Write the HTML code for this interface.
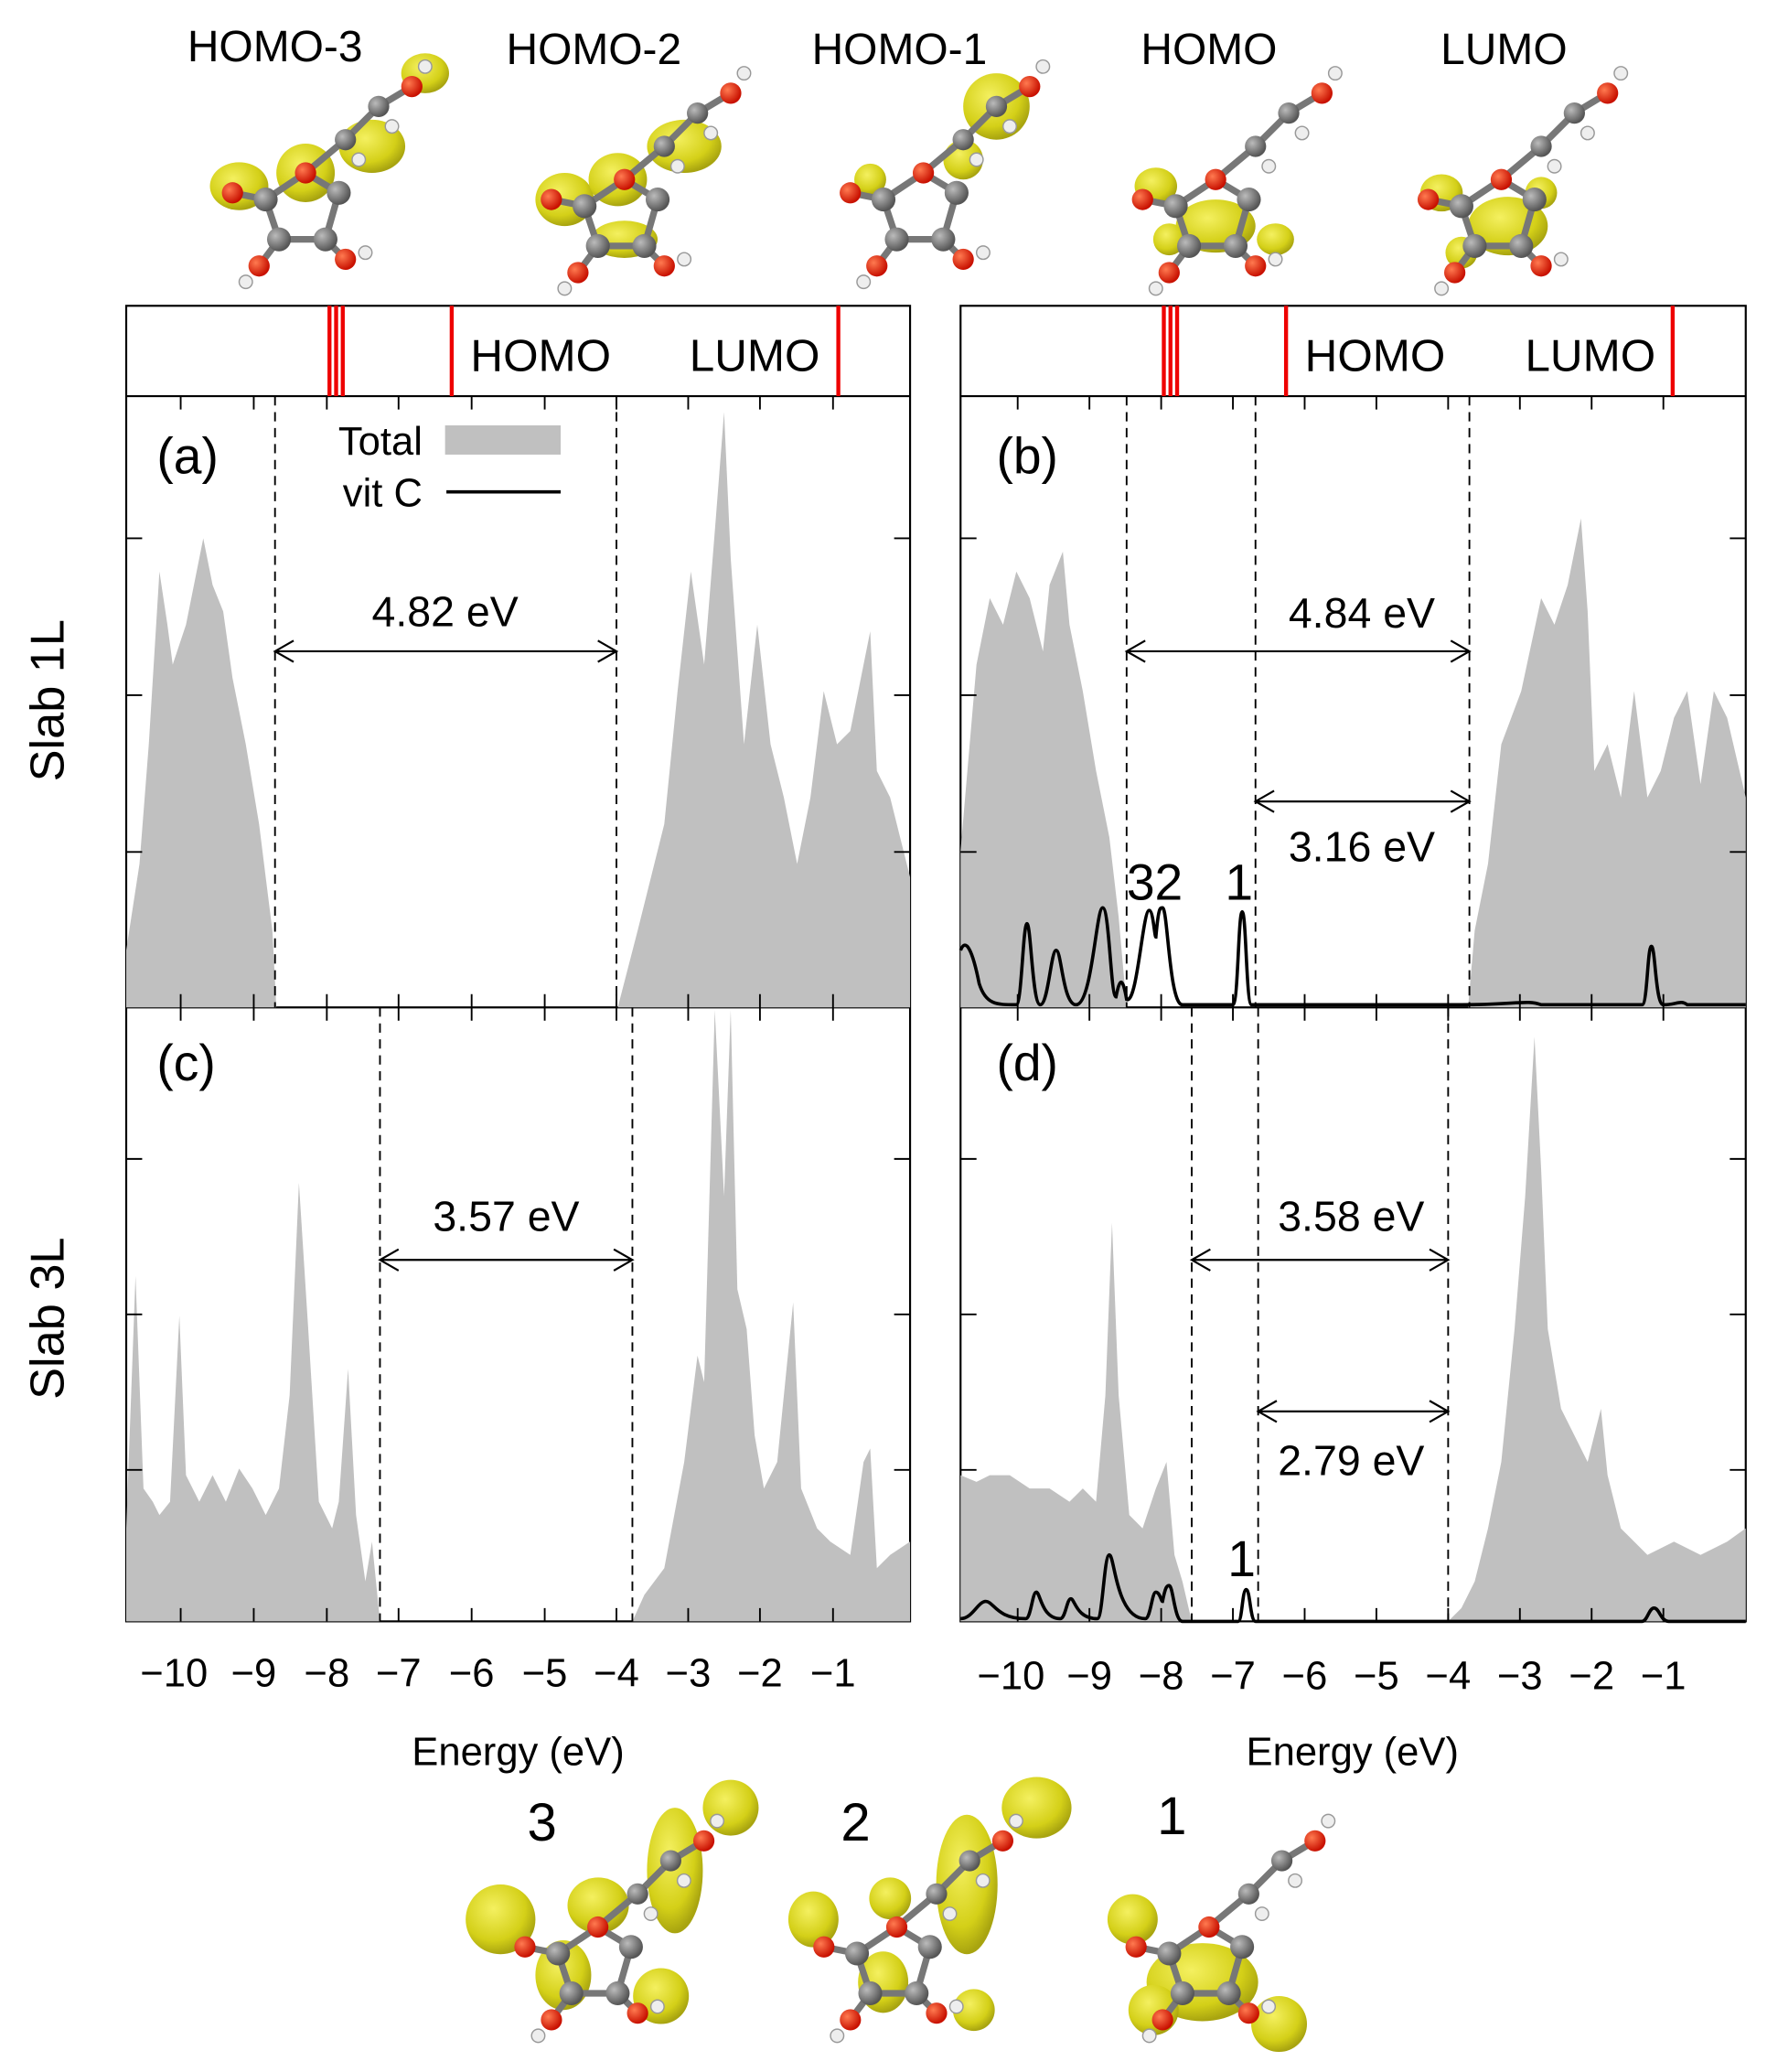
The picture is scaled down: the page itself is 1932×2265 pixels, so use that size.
<!DOCTYPE html>
<html><head><meta charset="utf-8"><style>html,body{margin:0;padding:0;background:#fff}svg{display:block}text{font-family:"Liberation Sans",sans-serif;fill:#000}</style></head><body>
<svg width="1932" height="2265" viewBox="0 0 1330 1559" xmlns="http://www.w3.org/2000/svg">
<defs>
<radialGradient id="yb" cx="40%" cy="35%" r="65%"><stop offset="0" stop-color="#f4f060"/><stop offset="0.7" stop-color="#d4d018"/><stop offset="1" stop-color="#a8a410"/></radialGradient>
<radialGradient id="gb" cx="35%" cy="35%" r="65%"><stop offset="0" stop-color="#bbb"/><stop offset="1" stop-color="#555"/></radialGradient>
<radialGradient id="rb" cx="35%" cy="35%" r="65%"><stop offset="0" stop-color="#ff7a50"/><stop offset="1" stop-color="#c81000"/></radialGradient>
<radialGradient id="bb" cx="35%" cy="35%" r="65%"><stop offset="0" stop-color="#b08050"/><stop offset="1" stop-color="#5a3a1a"/></radialGradient>
<g id="mol">
<path d="M-25,10 L5,-10 L30,5 L20,40 L-15,40 Z M5,-10 L35,-35 L60,-60 L85,-75 M-15,40 L-30,60 M20,40 L35,55 M-25,10 L-50,5" stroke="#777" stroke-width="5" fill="none"/>
<circle cx="-25" cy="10" r="9" fill="url(#gb)"/><circle cx="30" cy="5" r="9" fill="url(#gb)"/><circle cx="20" cy="40" r="9" fill="url(#gb)"/><circle cx="-15" cy="40" r="9" fill="url(#gb)"/><circle cx="35" cy="-35" r="8" fill="url(#gb)"/><circle cx="60" cy="-60" r="8" fill="url(#gb)"/>
<circle cx="5" cy="-10" r="8" fill="url(#rb)"/><circle cx="-50" cy="5" r="8" fill="url(#rb)"/><circle cx="-30" cy="60" r="8" fill="url(#rb)"/><circle cx="35" cy="55" r="8" fill="url(#rb)"/><circle cx="85" cy="-75" r="8" fill="url(#rb)"/>
<circle cx="95" cy="-90" r="5" fill="#eee" stroke="#999"/><circle cx="-40" cy="72" r="5" fill="#eee" stroke="#999"/><circle cx="50" cy="50" r="5" fill="#eee" stroke="#999"/><circle cx="45" cy="-20" r="5" fill="#eee" stroke="#999"/><circle cx="70" cy="-45" r="5" fill="#eee" stroke="#999"/>
</g>
</defs>
<rect width="1330" height="1559" fill="#fff"/>
<!-- top molecules -->
<g font-size="33">
<text x="207" y="46" text-anchor="middle">HOMO-3</text>
<text x="447" y="48" text-anchor="middle">HOMO-2</text>
<text x="677" y="48" text-anchor="middle">HOMO-1</text>
<text x="910" y="48" text-anchor="middle">HOMO</text>
<text x="1132" y="48" text-anchor="middle">LUMO</text>
</g>
<g transform="translate(225,140)"><ellipse cx="-45" cy="0" rx="22" ry="18" fill="url(#yb)"/><ellipse cx="5" cy="-10" rx="22" ry="22" fill="url(#yb)"/><ellipse cx="55" cy="-30" rx="25" ry="20" fill="url(#yb)"/><ellipse cx="95" cy="-85" rx="18" ry="15" fill="url(#yb)"/><use href="#mol"/></g>
<g transform="translate(465,145)"><ellipse cx="-40" cy="5" rx="22" ry="20" fill="url(#yb)"/><ellipse cx="0" cy="-10" rx="22" ry="20" fill="url(#yb)"/><ellipse cx="50" cy="-35" rx="28" ry="20" fill="url(#yb)"/><ellipse cx="5" cy="35" rx="25" ry="14" fill="url(#yb)"/><use href="#mol"/></g>
<g transform="translate(690,140)"><ellipse cx="-35" cy="-5" rx="12" ry="12" fill="url(#yb)"/><ellipse cx="60" cy="-60" rx="25" ry="25" fill="url(#yb)"/><ellipse cx="35" cy="-20" rx="15" ry="15" fill="url(#yb)"/><use href="#mol"/></g>
<g transform="translate(910,145)"><ellipse cx="-40" cy="-5" rx="16" ry="14" fill="url(#yb)"/><ellipse cx="5" cy="25" rx="30" ry="20" fill="url(#yb)"/><ellipse cx="-30" cy="35" rx="12" ry="12" fill="url(#yb)"/><ellipse cx="50" cy="35" rx="14" ry="12" fill="url(#yb)"/><use href="#mol"/></g>
<g transform="translate(1125,145)"><ellipse cx="-40" cy="0" rx="16" ry="14" fill="url(#yb)"/><ellipse cx="10" cy="25" rx="30" ry="22" fill="url(#yb)"/><ellipse cx="-25" cy="45" rx="12" ry="12" fill="url(#yb)"/><ellipse cx="35" cy="0" rx="12" ry="12" fill="url(#yb)"/><use href="#mol"/></g>

<!-- top strips -->
<g fill="none" stroke="#000" stroke-width="1.5">
<rect x="95" y="230" width="590" height="990"/>
<rect x="723" y="230" width="591" height="990"/>
<line x1="95" y1="298" x2="685" y2="298"/><line x1="723" y1="298" x2="1314" y2="298"/>
<line x1="95" y1="758" x2="685" y2="758"/><line x1="723" y1="758" x2="1314" y2="758"/>
</g>
<g stroke="#e00" stroke-width="3">
<line x1="248" y1="230" x2="248" y2="298"/><line x1="253" y1="230" x2="253" y2="298"/><line x1="258" y1="230" x2="258" y2="298"/>
<line x1="340" y1="230" x2="340" y2="298"/><line x1="631" y1="230" x2="631" y2="298"/>
<line x1="876" y1="230" x2="876" y2="298"/><line x1="881" y1="230" x2="881" y2="298"/><line x1="886" y1="230" x2="886" y2="298"/>
<line x1="968" y1="230" x2="968" y2="298"/><line x1="1259" y1="230" x2="1259" y2="298"/>
</g>
<g font-size="34">
<text x="407" y="279" text-anchor="middle">HOMO</text><text x="568" y="279" text-anchor="middle">LUMO</text>
<text x="1035" y="279" text-anchor="middle">HOMO</text><text x="1197" y="279" text-anchor="middle">LUMO</text>
</g>

<!-- fills -->
<g fill="#c0c0c0">
<path d="M95,758 L95,715 L105,650 L112,560 L120,430 L126,470 L130,500 L140,470 L148,430 L153,405 L160,440 L168,460 L175,510 L185,560 L195,620 L205,700 L208,758 Z"/>
<path d="M465,758 L480,700 L500,620 L510,520 L520,430 L530,500 L538,400 L545,310 L550,420 L560,560 L570,470 L580,560 L590,600 L600,650 L610,600 L620,520 L630,560 L640,550 L650,500 L655,475 L660,580 L670,600 L685,660 L685,758 Z"/>
<path d="M723,758 L723,640 L735,500 L745,450 L755,470 L765,430 L775,450 L785,490 L790,440 L800,415 L805,470 L815,520 L825,580 L835,630 L842,690 L848,758 Z"/>
<path d="M1105,758 L1110,700 L1120,650 L1130,560 L1145,520 L1160,450 L1170,470 L1180,440 L1190,390 L1195,460 L1200,580 L1210,560 L1220,600 L1230,520 L1240,600 L1250,580 L1260,540 L1270,520 L1280,590 L1290,520 L1300,540 L1314,600 L1314,758 Z"/>
<path d="M95,1220 L95,1150 L102,960 L108,1120 L115,1130 L120,1140 L128,1130 L135,990 L140,1110 L150,1130 L160,1110 L170,1130 L180,1105 L190,1120 L200,1140 L210,1120 L218,1050 L225,890 L232,1000 L240,1130 L250,1150 L255,1130 L262,1030 L268,1140 L275,1190 L280,1160 L286,1220 Z"/>
<path d="M476,1220 L485,1200 L500,1180 L515,1100 L525,1020 L530,1040 L538,760 L545,900 L550,760 L555,970 L562,1000 L568,1080 L575,1120 L585,1100 L590,1050 L597,980 L603,1120 L615,1150 L625,1160 L640,1170 L650,1100 L655,1090 L660,1180 L670,1170 L685,1160 L685,1220 Z"/>
<path d="M723,1220 L723,1110 L735,1115 L745,1110 L760,1110 L775,1120 L790,1120 L805,1130 L815,1120 L825,1130 L832,1050 L837,920 L842,1050 L850,1140 L860,1150 L870,1120 L878,1100 L884,1170 L890,1190 L897,1220 Z"/>
<path d="M1090,1220 L1100,1210 L1110,1190 L1120,1150 L1130,1100 L1140,1000 L1148,900 L1155,780 L1160,880 L1165,1000 L1175,1060 L1185,1080 L1195,1100 L1205,1060 L1210,1110 L1220,1150 L1240,1170 L1260,1160 L1280,1170 L1300,1160 L1314,1150 L1314,1220 Z"/>
</g>
<!-- black lines -->
<g fill="none" stroke="#000" stroke-width="2.5">
<path d="M723,715 C727,705 732,715 737,740 C742,756 750,756 765,756 C769,756 770,695 773,695 C776,695 777,756 783,756 C789,756 791,715 795,715 C799,715 800,756 810,756 C822,756 825,683 830,683 C835,683 836,750 840,750 C843,735 845,735 848,752 C856,756 860,685 865,685 C868,685 869,705 870,705 C872,683 873,683 875,683 C879,683 880,756 890,756 L928,756 C932,756 932,686 935,686 C938,686 938,756 942,756 L1100,756 C1140,756 1150,752 1160,756 L1236,756 C1240,756 1240,712 1243,712 C1246,712 1246,756 1252,756 C1262,756 1265,752 1270,756 L1314,756"/>
<path d="M723,1218 C732,1218 736,1205 742,1205 C748,1205 750,1218 772,1218 C776,1218 777,1198 780,1198 C783,1198 784,1218 798,1218 C802,1218 803,1203 806,1203 C809,1203 810,1218 826,1218 C830,1218 831,1170 835,1170 C839,1170 840,1218 862,1218 C866,1218 867,1198 870,1198 C873,1198 874,1205 875,1205 C877,1195 878,1193 880,1193 C883,1193 884,1220 890,1220 L932,1220 C935,1220 935,1196 938,1196 C941,1196 941,1220 945,1220 L1236,1220 C1240,1220 1241,1210 1245,1210 C1249,1210 1250,1220 1256,1220 L1314,1220"/>
</g>
<!-- dashed lines -->
<g stroke="#000" stroke-width="1.3" stroke-dasharray="7,5">
<line x1="207" y1="298" x2="207" y2="758"/><line x1="464" y1="298" x2="464" y2="758"/>
<line x1="848" y1="298" x2="848" y2="758"/><line x1="945" y1="298" x2="945" y2="758"/><line x1="1106" y1="298" x2="1106" y2="758"/>
<line x1="286" y1="758" x2="286" y2="1220"/><line x1="476" y1="758" x2="476" y2="1220"/>
<line x1="897" y1="758" x2="897" y2="1220"/><line x1="947" y1="758" x2="947" y2="1220"/><line x1="1090" y1="758" x2="1090" y2="1220"/>
</g>
<!-- arrows -->
<g stroke="#000" stroke-width="1.5" fill="none">
<path d="M207,490 H464 M221,482 L207,490 L221,498 M450,482 L464,490 L450,498"/>
<path d="M848,490 H1106 M862,482 L848,490 L862,498 M1092,482 L1106,490 L1092,498"/>
<path d="M945,603 H1106 M959,595 L945,603 L959,611 M1092,595 L1106,603 L1092,611"/>
<path d="M286,948 H476 M300,940 L286,948 L300,956 M462,940 L476,948 L462,956"/>
<path d="M897,948 H1090 M911,940 L897,948 L911,956 M1076,940 L1090,948 L1076,956"/>
<path d="M947,1062 H1090 M961,1054 L947,1062 L961,1070 M1076,1054 L1090,1062 L1076,1070"/>
</g>
<g font-size="32" text-anchor="middle">
<text x="335" y="471">4.82 eV</text><text x="1025" y="472">4.84 eV</text><text x="1025" y="648">3.16 eV</text>
<text x="381" y="926">3.57 eV</text><text x="1017" y="926">3.58 eV</text><text x="1017" y="1110">2.79 eV</text>
</g>
<g font-size="38">
<text x="118" y="356">(a)</text><text x="750" y="356">(b)</text><text x="118" y="813">(c)</text><text x="750" y="813">(d)</text>
<text x="848" y="677">32</text><text x="922" y="677">1</text><text x="924" y="1186">1</text>
</g>
<!-- legend -->
<g font-size="30" text-anchor="end"><text x="318" y="342">Total</text><text x="318" y="381">vit C</text></g>
<rect x="335" y="320" width="87" height="22" fill="#c0c0c0"/>
<line x1="336" y1="370" x2="422" y2="370" stroke="#000" stroke-width="2.5"/>
<!-- y labels -->
<g font-size="36" text-anchor="middle">
<text transform="translate(48,527) rotate(-90)">Slab 1L</text>
<text transform="translate(48,992) rotate(-90)">Slab 3L</text>
</g>
<!-- ticks -->
<g stroke="#000" stroke-width="1.3">
<path d="M95,405h12M95,523h12M95,641h12M685,405h-12M685,523h-12M685,641h-12M723,405h12M723,523h12M723,641h12M1314,405h-12M1314,523h-12M1314,641h-12"/>
<path d="M95,872h12M95,989h12M95,1106h12M685,872h-12M685,989h-12M685,1106h-12M723,872h12M723,989h12M723,1106h12M1314,872h-12M1314,989h-12M1314,1106h-12"/>
<path id="tl" d="M136,298v10M191,298v10M246,298v10M300,298v10M355,298v10M410,298v10M464,298v10M518,298v10M572,298v10M627,298v10M136,758v-10M191,758v-10M246,758v-10M300,758v-10M355,758v-10M410,758v-10M464,758v-10M518,758v-10M572,758v-10M627,758v-10M136,758v10M191,758v10M246,758v10M300,758v10M355,758v10M410,758v10M464,758v10M518,758v10M572,758v10M627,758v10M136,1220v-10M191,1220v-10M246,1220v-10M300,1220v-10M355,1220v-10M410,1220v-10M464,1220v-10M518,1220v-10M572,1220v-10M627,1220v-10"/>
<path d="M766,298v10M820,298v10M874,298v10M928,298v10M982,298v10M1036,298v10M1090,298v10M1144,298v10M1198,298v10M1252,298v10M766,758v-10M820,758v-10M874,758v-10M928,758v-10M982,758v-10M1036,758v-10M1090,758v-10M1144,758v-10M1198,758v-10M1252,758v-10M766,758v10M820,758v10M874,758v10M928,758v10M982,758v10M1036,758v10M1090,758v10M1144,758v10M1198,758v10M1252,758v10M766,1220v-10M820,1220v-10M874,1220v-10M928,1220v-10M982,1220v-10M1036,1220v-10M1090,1220v-10M1144,1220v-10M1198,1220v-10M1252,1220v-10"/>
</g>
<g font-size="30" text-anchor="middle">
<text x="131" y="1269">−10</text><text x="191" y="1269">−9</text><text x="246" y="1269">−8</text><text x="300" y="1269">−7</text><text x="355" y="1269">−6</text><text x="410" y="1269">−5</text><text x="464" y="1269">−4</text><text x="518" y="1269">−3</text><text x="572" y="1269">−2</text><text x="627" y="1269">−1</text>
<text x="761" y="1271">−10</text><text x="820" y="1271">−9</text><text x="874" y="1271">−8</text><text x="928" y="1271">−7</text><text x="982" y="1271">−6</text><text x="1036" y="1271">−5</text><text x="1090" y="1271">−4</text><text x="1144" y="1271">−3</text><text x="1198" y="1271">−2</text><text x="1252" y="1271">−1</text>
</g>
<g font-size="30" text-anchor="middle"><text x="390" y="1328">Energy (eV)</text><text x="1018" y="1328">Energy (eV)</text></g>
<!-- bottom molecules -->
<g font-size="40" text-anchor="middle"><text x="408" y="1385">3</text><text x="644" y="1385">2</text><text x="882" y="1380">1</text></g>
<g transform="translate(445,1460) scale(1.05)"><ellipse cx="-65" cy="-15" rx="25" ry="25" fill="url(#yb)"/><ellipse cx="5" cy="-25" rx="22" ry="20" fill="url(#yb)"/><ellipse cx="60" cy="-50" rx="20" ry="45" fill="url(#yb)"/><ellipse cx="100" cy="-95" rx="20" ry="20" fill="url(#yb)"/><ellipse cx="-20" cy="25" rx="20" ry="25" fill="url(#yb)"/><ellipse cx="50" cy="40" rx="20" ry="20" fill="url(#yb)"/><use href="#mol" transform="scale(0.95)"/></g>
<g transform="translate(670,1460) scale(1.05)"><ellipse cx="-55" cy="-15" rx="18" ry="20" fill="url(#yb)"/><ellipse cx="0" cy="-30" rx="15" ry="15" fill="url(#yb)"/><ellipse cx="55" cy="-40" rx="22" ry="50" fill="url(#yb)"/><ellipse cx="105" cy="-95" rx="25" ry="22" fill="url(#yb)"/><ellipse cx="-5" cy="30" rx="18" ry="22" fill="url(#yb)"/><ellipse cx="60" cy="50" rx="15" ry="15" fill="url(#yb)"/><use href="#mol" transform="scale(0.95)"/></g>
<g transform="translate(905,1460) scale(1.05)"><ellipse cx="-50" cy="-15" rx="18" ry="18" fill="url(#yb)"/><ellipse cx="0" cy="30" rx="40" ry="28" fill="url(#yb)"/><ellipse cx="-35" cy="50" rx="18" ry="18" fill="url(#yb)"/><ellipse cx="55" cy="60" rx="20" ry="20" fill="url(#yb)"/><use href="#mol" transform="scale(0.95)"/></g>
</svg>
</body></html>
